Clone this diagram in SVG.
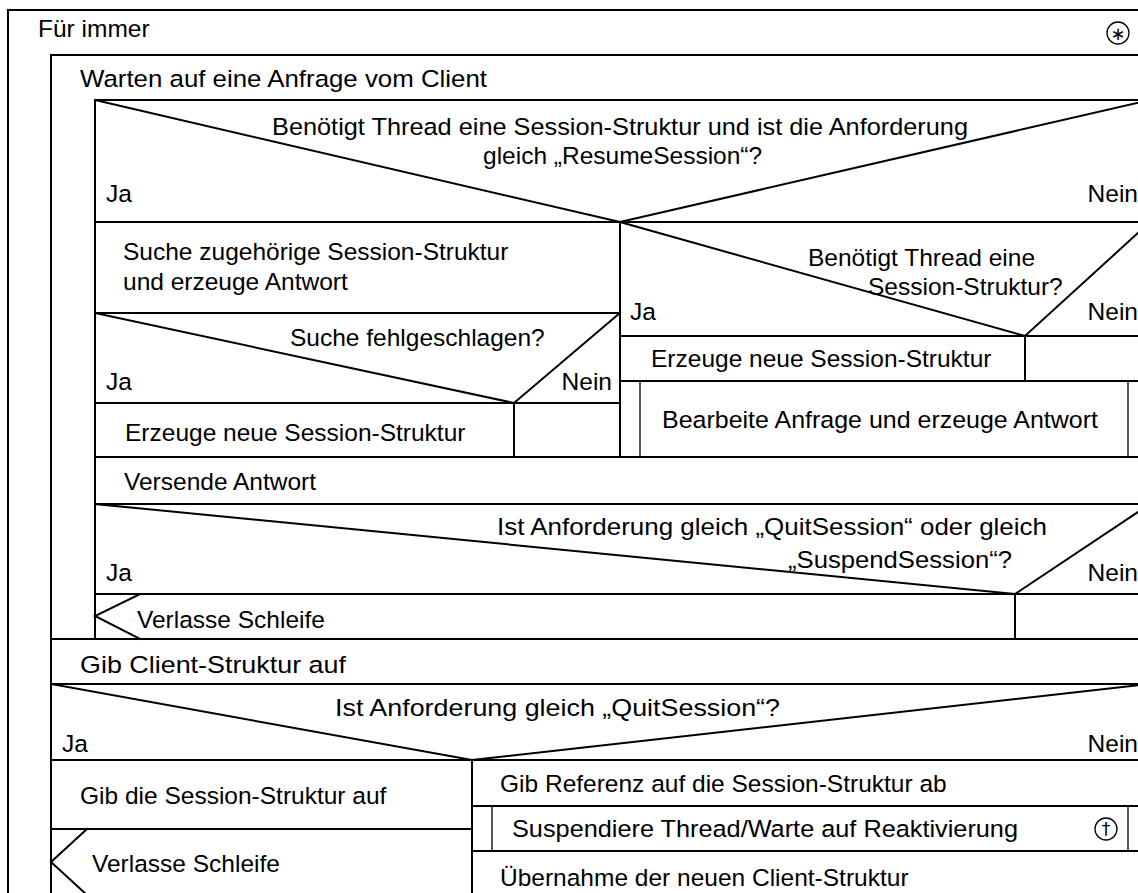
<svg xmlns="http://www.w3.org/2000/svg" width="1138" height="893" viewBox="0 0 1138 893">
  <style>
    .ln { stroke: #000; stroke-width: 2; fill: none; stroke-linecap: square; }
    .thin { stroke: #000; stroke-width: 1.3; fill: none; }
    .t { font-family: "Liberation Sans", Arial, sans-serif; font-size: 24.5px; fill: #000; }
    .e { text-anchor: end; }
    .sym { font-family: "DejaVu Sans", sans-serif; font-size: 18px; text-anchor: middle; fill: #000; }
  </style>
  <rect width="1138" height="893" fill="#fff"/>

  <!-- outer endless loop -->
  <g id="loop-forever">
    <path class="ln" d="M8,893 V10 H1150"/>
    <text class="t" x="38" y="37">Für immer</text>
    <circle cx="1118" cy="33" r="11" fill="none" stroke="#000" stroke-width="1.3"/>
    <text class="sym" x="1118" y="40">∗</text>
  </g>

  <!-- inner loop waiting for requests -->
  <g id="loop-request">
    <path class="ln" d="M51,893 V55 H1150"/>
    <text class="t" x="80" y="87" textLength="407" lengthAdjust="spacingAndGlyphs">Warten auf eine Anfrage vom Client</text>
    <path class="ln" d="M95,100 H1150 M95,100 V639"/>
  </g>

  <!-- decision: resume session -->
  <g id="dec-resume">
    <path class="ln" d="M95,100 L620,222 L1150,100"/>
    <text class="t" x="272" y="135" textLength="696" lengthAdjust="spacingAndGlyphs">Benötigt Thread eine Session-Struktur und ist die Anforderung</text>
    <text class="t" x="483" y="164">gleich „ResumeSession“?</text>
    <text class="t" x="106" y="202">Ja</text>
    <text class="t e" x="1138" y="202">Nein</text>
    <path class="ln" d="M95,222 H1150 M620,222 V457"/>
  </g>

  <!-- yes branch -->
  <g id="find-session">
    <text class="t" x="123" y="260">Suche zugehörige Session-Struktur</text>
    <text class="t" x="123" y="290">und erzeuge Antwort</text>
    <path class="ln" d="M95,313 H620"/>
  </g>
  <g id="dec-failed">
    <path class="ln" d="M95,313 L514,403 L620,313"/>
    <text class="t" x="290" y="346">Suche fehlgeschlagen?</text>
    <text class="t" x="106" y="390">Ja</text>
    <text class="t e" x="612" y="390">Nein</text>
    <path class="ln" d="M95,403 H620 M514,403 V457"/>
  </g>
  <g id="create-session-a">
    <text class="t" x="125" y="441">Erzeuge neue Session-Struktur</text>
  </g>

  <!-- no branch -->
  <g id="dec-needs-session">
    <path class="ln" d="M620,222 L1025,336 L1150,222"/>
    <text class="t" x="808" y="266">Benötigt Thread eine</text>
    <text class="t" x="868" y="295">Session-Struktur?</text>
    <text class="t" x="630" y="320">Ja</text>
    <text class="t e" x="1138" y="320">Nein</text>
    <path class="ln" d="M620,336 H1150 M1025,336 V381"/>
  </g>
  <g id="create-session-b">
    <text class="t" x="651" y="367">Erzeuge neue Session-Struktur</text>
    <path class="ln" d="M620,381 H1150"/>
  </g>
  <g id="call-process">
    <path class="thin" d="M640,381 V457 M1128,381 V457"/>
    <text class="t" x="662" y="428" textLength="436" lengthAdjust="spacingAndGlyphs">Bearbeite Anfrage und erzeuge Antwort</text>
  </g>

  <g id="send-reply">
    <path class="ln" d="M95,457 H1150"/>
    <text class="t" x="124" y="490">Versende Antwort</text>
    <path class="ln" d="M95,504 H1150"/>
  </g>

  <g id="dec-quit-suspend">
    <path class="ln" d="M95,504 L1015,594 L1150,504"/>
    <text class="t" x="497" y="535" textLength="550" lengthAdjust="spacingAndGlyphs">Ist Anforderung gleich „QuitSession“ oder gleich</text>
    <text class="t" x="788" y="568" textLength="224" lengthAdjust="spacingAndGlyphs">„SuspendSession“?</text>
    <text class="t" x="106" y="581">Ja</text>
    <text class="t e" x="1138" y="581">Nein</text>
    <path class="ln" d="M95,594 H1150 M1015,594 V639"/>
  </g>
  <g id="break-inner">
    <path class="ln" d="M140,594 L95,616 L140,639" stroke-linecap="butt"/>
    <text class="t" x="137" y="628">Verlasse Schleife</text>
  </g>

  <g id="release-client">
    <path class="ln" d="M51,639 H1150"/>
    <text class="t" x="80" y="673" textLength="266" lengthAdjust="spacingAndGlyphs">Gib Client-Struktur auf</text>
    <path class="ln" d="M51,684 H1150"/>
  </g>

  <g id="dec-quit">
    <path class="ln" d="M51,684 L472,760 L1150,684"/>
    <text class="t" x="335" y="716" textLength="445" lengthAdjust="spacingAndGlyphs">Ist Anforderung gleich „QuitSession“?</text>
    <text class="t" x="62" y="752">Ja</text>
    <text class="t e" x="1138" y="752">Nein</text>
    <path class="ln" d="M51,760 H1150 M472,760 V893"/>
  </g>

  <g id="release-session">
    <text class="t" x="80" y="804">Gib die Session-Struktur auf</text>
    <path class="ln" d="M51,829 H472"/>
  </g>
  <g id="break-outer">
    <path class="ln" d="M87,829 L51,862 L87,895" stroke-linecap="butt"/>
    <text class="t" x="92" y="872">Verlasse Schleife</text>
  </g>

  <g id="drop-reference">
    <text class="t" x="500" y="792">Gib Referenz auf die Session-Struktur ab</text>
    <path class="ln" d="M472,806 H1150"/>
  </g>
  <g id="call-suspend">
    <path class="thin" d="M492,806 V851 M1128,806 V851"/>
    <text class="t" x="512" y="837" textLength="506" lengthAdjust="spacingAndGlyphs">Suspendiere Thread/Warte auf Reaktivierung</text>
    <circle cx="1106" cy="829" r="11" fill="none" stroke="#000" stroke-width="1.3"/>
    <text class="sym" x="1106" y="835">†</text>
    <path class="ln" d="M472,851 H1150"/>
  </g>
  <g id="take-client">
    <text class="t" x="500" y="886">Übernahme der neuen Client-Struktur</text>
  </g>
</svg>
